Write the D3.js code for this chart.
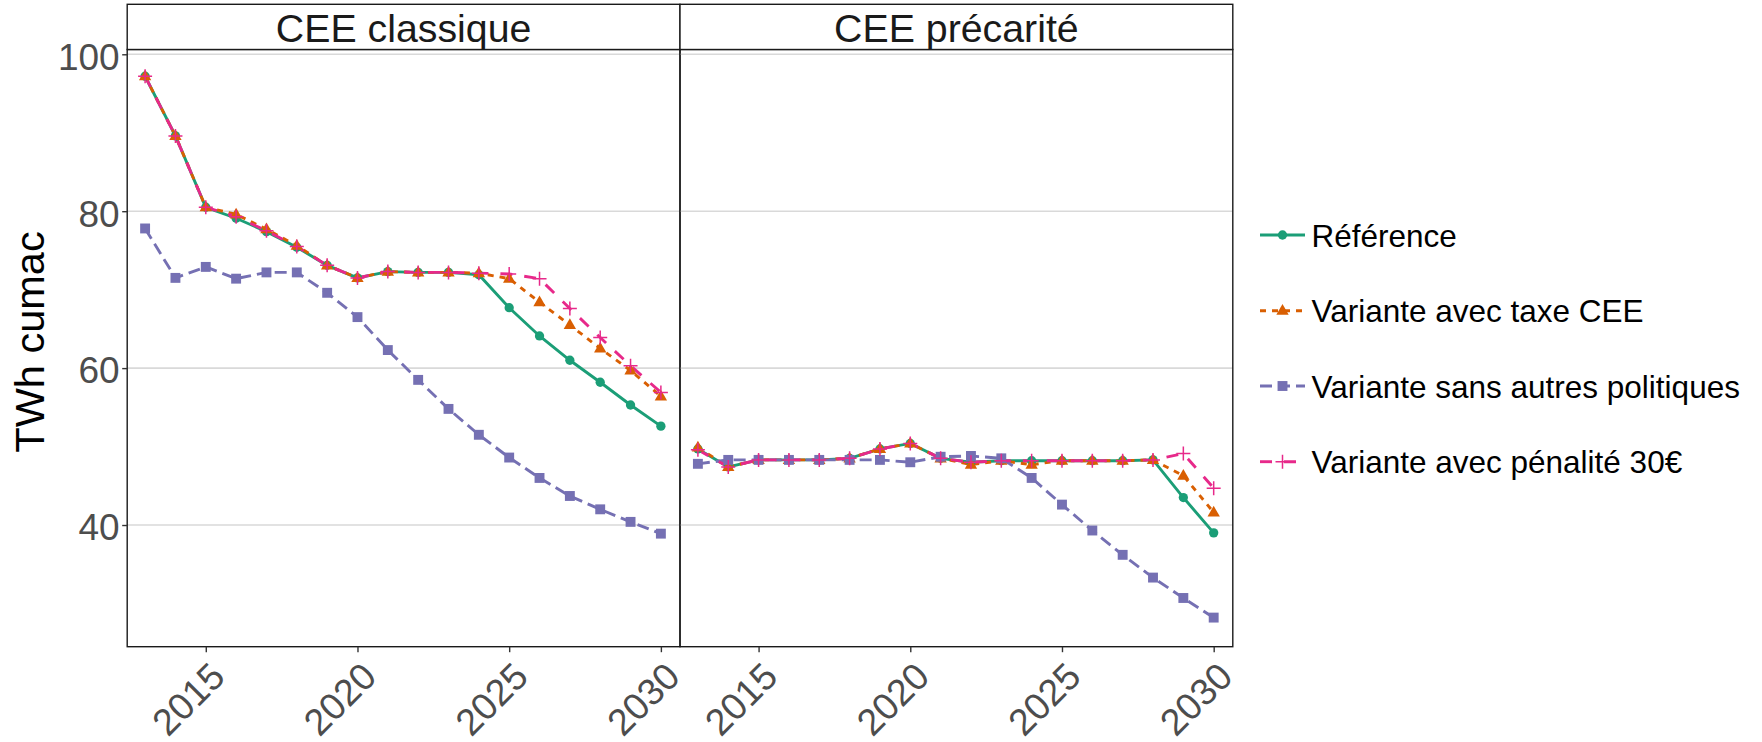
<!DOCTYPE html>
<html><head><meta charset="utf-8">
<script src="https://cdn.jsdelivr.net/npm/d3@7"></script>
<style>
body{margin:0;background:#fff;}
svg{display:block;font-family:"Liberation Sans",Arial,sans-serif;}
</style></head>
<body>
<svg id="chart" width="1762" height="742"></svg>
<script>
const years = [2013,2014,2015,2016,2017,2018,2019,2020,2021,2022,2023,2024,2025,2026,2027,2028,2029,2030];
const panels = ["CEE classique","CEE précarité"];
const seriesNames = ["Référence","Variante avec taxe CEE","Variante sans autres politiques","Variante avec pénalité 30€"];
const classiqueRef  = [97.2,89.6,80.5,79.1,77.4,75.4,73.1,71.5,72.3,72.2,72.2,71.9,67.7,64.1,61.0,58.2,55.3,52.6];
const classiqueTaxe = [97.2,89.6,80.5,79.6,77.7,75.6,73.1,71.5,72.3,72.2,72.2,72.1,71.4,68.4,65.5,62.5,59.7,56.4];
const classiqueNsap = [77.8,71.5,72.9,71.4,72.2,72.2,69.6,66.5,62.3,58.5,54.8,51.5,48.6,46.0,43.7,42.0,40.4,38.9];
const classiquePen  = [97.2,89.6,80.5,79.3,77.5,75.5,73.1,71.5,72.3,72.2,72.2,72.1,72.0,71.4,67.6,63.9,60.3,56.9];
const precariteRef  = [49.7,47.4,48.3,48.3,48.3,48.5,49.7,50.4,48.5,48.0,48.2,48.2,48.2,48.2,48.2,48.3,43.5,39.0];
const precariteTaxe = [49.9,47.4,48.3,48.3,48.3,48.5,49.7,50.4,48.5,47.7,48.2,47.7,48.2,48.2,48.2,48.3,46.3,41.6];
const precariteNsap = [47.8,48.3,48.3,48.3,48.3,48.3,48.3,48.0,48.7,48.8,48.5,46.0,42.6,39.3,36.2,33.3,30.7,28.2];
const precaritePen  = [49.6,47.4,48.3,48.3,48.3,48.5,49.7,50.4,48.5,48.0,48.2,48.2,48.2,48.2,48.2,48.3,49.1,44.7];
const xTicks = [2015,2020,2025,2030];
const yTicks = [40,60,80,100];
const yTitle = "TWh cumac";

const panelData = [
  [classiqueRef, classiqueTaxe, classiqueNsap, classiquePen],
  [precariteRef, precariteTaxe, precariteNsap, precaritePen]
];
const colors = ["#1B9E77","#D95F02","#7570B3","#E7298A"];
const dashes = [null,"6,6","12,6","12,12"];
const shapes = ["circle","triangle","square","plus"];

const svg = d3.select("#chart");
const plotTop = 49.5, plotBottom = 646.7;
const panelX = [[127.2,680],[680,1232.8]];
const y = d3.scaleLinear().domain([24.49,100.61]).range([plotBottom, plotTop]);

function drawMarker(g, shape, cx, cy, color){
  if(shape==="plus"){
    const s=7;
    g.append("path").attr("d",`M${cx-s},${cy}H${cx+s}M${cx},${cy-s}V${cy+s}`)
      .attr("stroke",color).attr("stroke-width",1.5).attr("fill","none");
  } else {
    const type = shape==="circle"?d3.symbolCircle:shape==="triangle"?d3.symbolTriangle:d3.symbolSquare;
    const size = shape==="circle"?68:shape==="triangle"?66:98;
    g.append("path").attr("d",d3.symbol().type(type).size(size)())
      .attr("transform",`translate(${cx},${shape==="triangle"?cy+0.5:cy})`).attr("fill",color);
  }
}

panels.forEach((name,pi)=>{
  const [x0,x1] = panelX[pi];
  const x = d3.scaleLinear().domain([2012.41,2030.63]).range([x0,x1]);
  const g = svg.append("g");
  g.selectAll(".grid").data(yTicks).enter().append("line")
    .attr("x1",x0).attr("x2",x1).attr("y1",d=>y(d)).attr("y2",d=>y(d))
    .attr("stroke","#D9D9D9").attr("stroke-width",1.6);
  const line = d3.line().x((d,i)=>x(years[i])).y(d=>y(d));
  panelData[pi].forEach((vals,si)=>{
    g.append("path").datum(vals).attr("d",line).attr("fill","none")
      .attr("stroke",colors[si]).attr("stroke-width",2.9)
      .attr("stroke-dasharray",dashes[si]);
  });
  panelData[pi].forEach((vals,si)=>{
    vals.forEach((v,i)=>drawMarker(g,shapes[si],x(years[i]),y(v),colors[si]));
  });
  g.append("rect").attr("x",x0).attr("y",plotTop).attr("width",x1-x0).attr("height",plotBottom-plotTop)
    .attr("fill","none").attr("stroke","#1A1A1A").attr("stroke-width",1.4);
  g.append("rect").attr("x",x0).attr("y",4.3).attr("width",x1-x0).attr("height",plotTop-4.3)
    .attr("fill","#fff").attr("stroke","#1A1A1A").attr("stroke-width",1.4);
  g.append("text").attr("x",(x0+x1)/2).attr("y",41.8).attr("text-anchor","middle")
    .attr("font-size",39.3).attr("fill","#1A1A1A").text(name);
  const xa = svg.append("g").attr("transform",`translate(0,${plotBottom})`)
    .call(d3.axisBottom(x).tickValues(xTicks).tickFormat(d3.format("d")).tickSize(5.5).tickPadding(0));
  xa.select(".domain").remove();
  xa.selectAll(".tick line").attr("stroke","#333").attr("stroke-width",1.4);
  xa.selectAll(".tick text").attr("font-size",37.5).attr("fill","#4D4D4D")
    .attr("font-family","Liberation Sans, Arial, sans-serif")
    .attr("text-anchor","end").attr("y",0).attr("dy","0.72em")
    .attr("transform","translate(1.5,13) rotate(-45)");
});

const ya = svg.append("g").attr("transform",`translate(${panelX[0][0]},0)`)
  .call(d3.axisLeft(y).tickValues(yTicks).tickSize(5).tickPadding(2.5));
ya.select(".domain").remove();
ya.selectAll(".tick line").attr("stroke","#333").attr("stroke-width",1.4);
ya.selectAll(".tick text").attr("font-size",37).attr("fill","#4D4D4D")
  .attr("font-family","Liberation Sans, Arial, sans-serif").attr("dy","0.40em");

svg.append("text").attr("transform","translate(44,342) rotate(-90)")
  .attr("text-anchor","middle").attr("font-size",41.5).attr("fill","#000").text(yTitle);

const legY = [235,310.7,386,461.7];
seriesNames.forEach((n,si)=>{
  const lg = svg.append("g");
  lg.append("line").attr("x1",1260).attr("x2",1305).attr("y1",legY[si]).attr("y2",legY[si])
    .attr("stroke",colors[si]).attr("stroke-width",2.9).attr("stroke-dasharray",dashes[si]);
  drawMarker(lg,shapes[si],1282.5,legY[si],colors[si]);
  lg.append("text").attr("x",1311.5).attr("y",legY[si]+11.5).attr("font-size",31.5)
    .attr("fill","#000").text(n);
});
</script>
</body></html>
